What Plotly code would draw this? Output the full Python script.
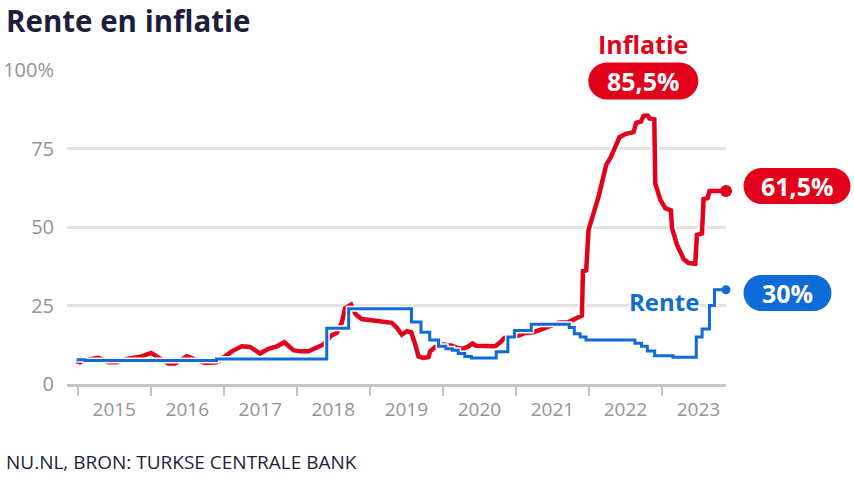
import plotly.graph_objects as go

# ---------------- data ----------------
infl_dates = [2014.986, 2015.032, 2015.100, 2015.282, 2015.419, 2015.534, 2015.671, 2015.877,
              2016.004, 2016.104, 2016.241, 2016.333, 2016.493, 2016.630, 2016.744, 2016.904,
              2017.018, 2017.110, 2017.247, 2017.360, 2017.497, 2017.611, 2017.726, 2017.830,
              2017.953, 2018.045, 2018.159, 2018.274, 2018.364, 2018.470, 2018.548, 2018.616,
              2018.662, 2018.744, 2018.808, 2018.890, 2019.027, 2019.210, 2019.301, 2019.370,
              2019.438, 2019.507, 2019.566, 2019.630, 2019.666, 2019.734, 2019.803, 2019.826,
              2019.895, 2020.008, 2020.123, 2020.192, 2020.282, 2020.351, 2020.405, 2020.452,
              2020.579, 2020.716, 2020.785, 2020.844, 2020.945, 2021.036, 2021.127, 2021.241,
              2021.310, 2021.401, 2021.493, 2021.584, 2021.721, 2021.789, 2021.858, 2021.904,
              2021.918, 2021.963, 2021.995, 2022.063, 2022.132, 2022.237, 2022.301, 2022.419,
              2022.497, 2022.611, 2022.648, 2022.712, 2022.748, 2022.803, 2022.830, 2022.895,
              2022.908, 2022.977, 2023.045, 2023.123, 2023.137, 2023.205, 2023.296, 2023.364,
              2023.456, 2023.479, 2023.548, 2023.570, 2023.625, 2023.652, 2023.877]
inflatie = [7.3, 6.9, 7.6, 8.3, 6.9, 6.9, 8.0, 8.8,
            9.9, 8.6, 6.5, 6.5, 8.8, 7.6, 6.7, 6.9,
            8.8, 10.4, 12.0, 11.8, 9.7, 11.2, 12.0, 13.3,
            10.8, 10.4, 10.4, 11.5, 12.6, 15.4, 16.3, 19.5,
            24.2, 25.3, 22.1, 20.7, 20.3, 19.7, 19.5, 17.9,
            15.7, 16.8, 16.5, 12.0, 8.8, 8.3, 8.6, 10.4,
            11.8, 12.6, 12.2, 11.5, 11.2, 12.0, 12.9, 12.2,
            12.0, 12.0, 13.3, 14.7, 15.0, 15.4, 16.3, 16.5,
            17.1, 17.9, 18.9, 19.5, 19.7, 20.5, 21.6, 21.8,
            35.9, 36.2, 49.1, 53.9, 59.7, 69.8, 72.3, 78.6,
            79.6, 80.2, 83.2, 83.6, 85.4, 85.5, 84.6, 84.3,
            64.0, 58.7, 56.0, 55.3, 49.7, 44.4, 39.8, 38.5,
            38.3, 47.5, 47.9, 58.9, 59.2, 61.5, 61.5]

rente_dates = [2014.986, 2015.10, 2016.90, 2018.41, 2018.71, 2019.57, 2019.70, 2019.82,
               2019.94, 2020.04, 2020.13, 2020.21, 2020.30, 2020.39, 2020.73, 2020.89,
               2020.98, 2021.21, 2021.73, 2021.80, 2021.88, 2021.96, 2022.63, 2022.72,
               2022.80, 2022.90, 2023.15, 2023.47, 2023.55, 2023.65, 2023.72, 2023.877]
rente = [7.75, 7.5, 8.0, 17.75, 24.0, 19.75, 16.5, 14.0,
         12.0, 11.25, 10.75, 9.75, 8.75, 8.25, 10.25, 15.0,
         17.0, 19.0, 18.0, 16.0, 15.0, 14.0, 13.0, 12.0,
         10.5, 9.0, 8.5, 15.0, 17.5, 25.0, 30.0, 30.0]

years = [2015, 2016, 2017, 2018, 2019, 2020, 2021, 2022, 2023]
y_ticks = [0, 25, 50, 75, 100]
y_ticktext = ["0", "25", "50", "75", "100%"]

# ---------------- styling ----------------
RED = "#e2001a"
BLUE = "#0f6bd8"
NAVY = "#1c1e3c"
GREY_TXT = "#949494"
W, H = 854, 480
ML, MR, MT, MB = 67, 128, 70, 96
PW, PH = W - ML - MR, H - MT - MB


def px(xp):
    return (xp - ML) / PW


def py(yp):
    return (H - MB - yp) / PH


def pill(cx, cy, w, h):
    r = h / 2
    k = 0.5523 * r
    l, rt, t, b = cx - w / 2, cx + w / 2, cy - h / 2, cy + h / 2
    pts = [("M", [(l + r, t)]), ("L", [(rt - r, t)]),
           ("C", [(rt - r + k, t), (rt, cy - k), (rt, cy)]),
           ("C", [(rt, cy + k), (rt - r + k, b), (rt - r, b)]),
           ("L", [(l + r, b)]),
           ("C", [(l + r - k, b), (l, cy + k), (l, cy)]),
           ("C", [(l, cy - k), (l + r - k, t), (l + r, t)])]
    s = ""
    for cmd, ps in pts:
        s += cmd + " " + " ".join(f"{px(a):.5f},{py(b_):.5f}" for a, b_ in ps) + " "
    return s + "Z"


def fmt(v):
    s = f"{v:.1f}".replace(".", ",")
    if s.endswith(",0"):
        s = s[:-2]
    return s + "%"


fig = go.Figure()
# red with white halo
fig.add_trace(go.Scatter(x=infl_dates, y=inflatie, mode="lines",
                         line=dict(color="white", width=8), hoverinfo="skip"))
fig.add_trace(go.Scatter(x=infl_dates, y=inflatie, mode="lines",
                         line=dict(color=RED, width=4.5)))
# blue with white halo
fig.add_trace(go.Scatter(x=rente_dates, y=rente, mode="lines", line_shape="hv",
                         line=dict(color="white", width=6), hoverinfo="skip"))
fig.add_trace(go.Scatter(x=rente_dates, y=rente, mode="lines", line_shape="hv",
                         line=dict(color=BLUE, width=3)))
# end dots
fig.add_trace(go.Scatter(x=[infl_dates[-1]], y=[inflatie[-1]], mode="markers",
                         marker=dict(color=RED, size=12), cliponaxis=False))
fig.add_trace(go.Scatter(x=[rente_dates[-1]], y=[rente[-1]], mode="markers",
                         marker=dict(color=BLUE, size=9), cliponaxis=False))

FONT = "Open Sans"
fig.update_layout(
    width=W, height=H, margin=dict(l=ML, r=MR, t=MT, b=MB, autoexpand=False),
    paper_bgcolor="white", plot_bgcolor="white", showlegend=False,
    font=dict(family=FONT),
    xaxis=dict(range=[2014.853, 2023.877], tickmode="array", automargin=False,
               tickvals=[y + 0.5 for y in years], ticktext=[str(y) for y in years],
               ticks="", showgrid=False, zeroline=False,
               showline=True, linecolor="#c4c4c4", linewidth=3,
               tickfont=dict(family=FONT, size=19, color=GREY_TXT),
               ticklabelstandoff=6,
               minor=dict(tickmode="array", tickvals=years, ticks="outside",
                          ticklen=9, tickwidth=2, tickcolor="#c4c4c4", showgrid=False)),
    yaxis=dict(range=[0, 100], tickmode="array", tickvals=y_ticks, ticktext=y_ticktext,
               automargin=False,
               ticks="", showgrid=True, gridcolor="#e2e2e2", gridwidth=3,
               zeroline=False, showline=False,
               tickfont=dict(family=FONT, size=20, color=GREY_TXT),
               ticklabelstandoff=12),
)

peak = max(inflatie)
shapes = [
    dict(type="path", xref="paper", yref="paper", path=pill(643.3, 81, 110, 37),
         fillcolor=RED, line=dict(width=0), layer="above"),
    dict(type="path", xref="paper", yref="paper", path=pill(797, 186, 107, 36),
         fillcolor=RED, line=dict(width=0), layer="above"),
    dict(type="path", xref="paper", yref="paper", path=pill(787.5, 293, 88, 36),
         fillcolor=BLUE, line=dict(width=0), layer="above"),
]
fig.update_layout(shapes=shapes)

annotations = [
    dict(text="<b>Rente en inflatie</b>", x=px(4), y=py(20), xref="paper", yref="paper",
         xanchor="left", yanchor="middle", showarrow=False,
         font=dict(family=FONT, size=29.5, color=NAVY)),
    dict(text="NU.NL, BRON: TURKSE CENTRALE BANK", x=px(4), y=py(462), xref="paper",
         yref="paper", xanchor="left", yanchor="middle", showarrow=False,
         font=dict(family=FONT, size=19, color=NAVY)),
    dict(text="<b>Inflatie</b>", x=px(643.3), y=py(44), xref="paper", yref="paper",
         xanchor="center", yanchor="middle", showarrow=False,
         font=dict(family=FONT, size=25, color=RED)),
    dict(text=f"<b>{fmt(peak)}</b>", x=px(643.3), y=py(81), xref="paper", yref="paper",
         xanchor="center", yanchor="middle", showarrow=False,
         font=dict(family=FONT, size=25, color="white")),
    dict(text=f"<b>{fmt(inflatie[-1])}</b>", x=px(797.5), y=py(186), xref="paper",
         yref="paper", xanchor="center", yanchor="middle", showarrow=False,
         font=dict(family=FONT, size=25, color="white")),
    dict(text=f"<b>{fmt(rente[-1])}</b>", x=px(787.5), y=py(293), xref="paper",
         yref="paper", xanchor="center", yanchor="middle", showarrow=False,
         font=dict(family=FONT, size=25, color="white")),
    dict(text="<b>Rente</b>", x=px(663.5), y=py(301), xref="paper", yref="paper",
         xanchor="center", yanchor="middle", showarrow=False, bgcolor="white",
         borderpad=0, font=dict(family=FONT, size=24, color=BLUE)),
]
fig.update_layout(annotations=annotations)

fig.write_html("out.html", config={"displayModeBar": False},
               post_script="document.body.style.margin='0';")
